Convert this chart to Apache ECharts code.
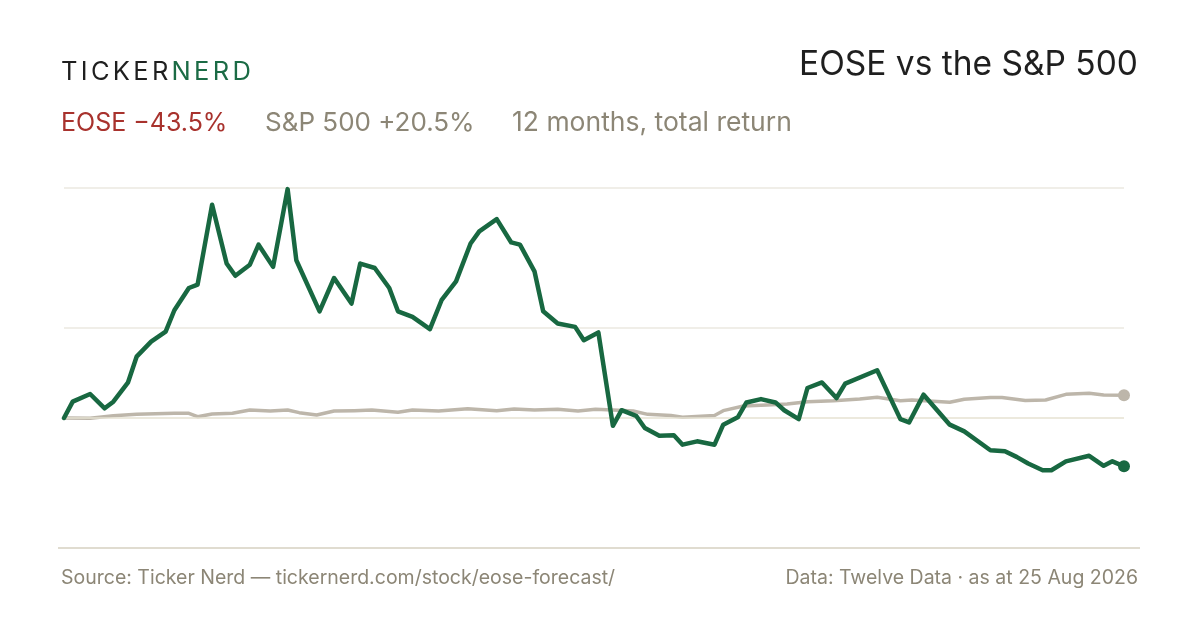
<!DOCTYPE html>
<html>
<head>
<meta charset="utf-8">
<title>EOSE vs the S&amp;P 500</title>
<script src="https://cdn.jsdelivr.net/npm/echarts@6/dist/echarts.min.js"></script>
<style>
  html, body { margin: 0; padding: 0; background: #ffffff; }
  #chart { width: 1200px; height: 630px; }
</style>
</head>
<body>
<div id="chart"></div>
<script>
// day offsets (0 = 25 Aug 2025, 365 = 25 Aug 2026) and total return in %
var eoseDays = [0, 3, 9, 14, 17, 22, 25, 30, 35, 38, 43, 46, 51, 56, 59, 64, 67, 72, 77, 80,
  88, 93, 99, 102, 107, 112, 115, 120, 126, 130, 135, 140, 143, 149, 154, 157, 162, 165, 170, 176,
  179, 184, 189, 192, 197, 200, 205, 210, 213, 218, 224, 227, 232, 235, 240, 245, 248, 253, 256, 261,
  266, 269, 280, 288, 291, 296, 305, 310, 319, 324, 328, 332, 337, 340, 345, 353, 358, 361, 365];
var eoseReturn = [0, 14.7, 21.6, 8.7, 14.7, 31.8, 55.2, 68.7, 77.7, 97, 117, 120, 192, 139, 128, 138, 156, 136, 206, 142,
  96, 126, 103, 139, 135, 117, 96, 91, 80, 106, 123, 157, 168, 179, 158, 156, 132, 96, 85, 82,
  70, 77, -7, 7, 2, -9, -16, -15.6, -24, -21, -24, -6, 0.6, 14, 17, 14, 7, -1, 27, 32,
  18, 31, 43, -1, -4, 21, -6, -12, -29, -30, -35, -41, -47, -47, -39, -34, -43, -39, -43.5];

var spxDays = [0, 9, 17, 25, 38, 43, 46, 51, 58, 64, 71, 77, 81, 87, 93, 100, 106, 115, 120, 129,
  139, 149, 155, 162, 170, 177, 183, 189, 196, 201, 209, 213, 224, 227, 234, 242, 249, 256, 265, 274,
  280, 284, 288, 292, 305, 310, 319, 323, 331, 338, 345, 353, 358, 365];
var spxReturn = [0, -0.3, 2.1, 3.3, 4.2, 4.2, 1.2, 3.6, 4.2, 7.2, 6.3, 7.2, 4.8, 2.7, 6.3, 6.6, 7.2, 5.1, 7.2, 6.3,
  8.4, 6.6, 8.1, 7.2, 7.8, 6.3, 7.8, 7.2, 6.3, 3.3, 2.2, 0.6, 2.2, 6.6, 10.8, 11.7, 12.6, 14.7, 15.6, 17.1,
  18.6, 17.1, 15.6, 16.2, 14.1, 16.9, 18.5, 18.5, 15.8, 16.2, 21.3, 22.2, 20.7, 20.5];

var gridLevels = [207, 81];
var zeroLevel = 0;

var FONT = 'Inter, "Noto Sans", sans-serif';

function pairs(xs, ys) {
  var out = [];
  for (var i = 0; i < xs.length; i++) out.push([xs[i], ys[i]]);
  return out;
}

function lastPoint(xs, ys, size) {
  var n = xs.length - 1;
  return [{ value: [xs[n], ys[n]], symbol: 'circle', symbolSize: size }];
}

// spaced-out logo: one rich token per letter so each gets its own padding
function spaced(word, style) {
  var s = '';
  for (var i = 0; i < word.length; i++) s += '{' + style + '|' + word.charAt(i) + '}';
  return s;
}

var chart = echarts.init(document.getElementById('chart'));

chart.setOption({
  backgroundColor: '#ffffff',
  animation: false,
  grid: { left: 64, right: 76, top: 188, bottom: 82 },
  xAxis: {
    type: 'value', min: 0, max: 365, show: false
  },
  yAxis: {
    type: 'value', min: -117, max: 207, show: false, splitLine: { show: false }
  },
  graphic: [
    {
      type: 'text', left: 61, top: 59,
      style: {
        text: spaced('TICKER', 'a') + spaced('NERD', 'b'),
        rich: {
          a: { fontFamily: FONT, fontSize: 25.5, fill: '#1f1f1f', padding: [0, 3.3, 0, 0] },
          b: { fontFamily: FONT, fontSize: 25.5, fill: '#1b6b45', padding: [0, 3.3, 0, 0] }
        }
      }
    },
    {
      type: 'text', right: 62, top: 48,
      style: { text: 'EOSE vs the S&P 500', fontFamily: FONT, fontSize: 33.5, fill: '#1f1f1f' }
    },
    {
      type: 'text', left: 61, top: 111,
      style: { text: 'EOSE \u221243.5%', fontFamily: FONT, fontSize: 25, fill: '#a8322d' }
    },
    {
      type: 'text', left: 265, top: 110,
      style: { text: 'S&P 500 +20.5%', fontFamily: FONT, fontSize: 26, fill: '#8c8676' }
    },
    {
      type: 'text', left: 512, top: 110,
      style: { text: '12 months, total return', fontFamily: FONT, fontSize: 26.5, fill: '#8c8676' }
    },
    {
      type: 'line',
      shape: { x1: 58, y1: 548, x2: 1140, y2: 548 },
      style: { stroke: '#e0dcd0', lineWidth: 2 }
    },
    {
      type: 'text', left: 61, top: 568,
      style: { text: 'Source: Ticker Nerd \u2014 tickernerd.com/stock/eose-forecast/', fontFamily: FONT, fontSize: 19.5, fill: '#8c8676' }
    },
    {
      type: 'text', right: 62, top: 568,
      style: { text: 'Data: Twelve Data \u00b7 as at 25 Aug 2026', fontFamily: FONT, fontSize: 19.5, fill: '#8c8676' }
    }
  ],
  series: [
    {
      // gridlines
      type: 'line', data: [], z: 1, silent: true,
      markLine: {
        silent: true, symbol: 'none', label: { show: false },
        lineStyle: { color: '#ebe8e1', width: 1.5, type: 'solid' },
        data: gridLevels.map(function (v) { return { yAxis: v }; })
          .concat([{ yAxis: zeroLevel, lineStyle: { color: '#e6e2d2', width: 1.5, type: 'solid' } }])
      }
    },
    {
      name: 'S&P 500', type: 'line', z: 3,
      data: pairs(spxDays, spxReturn),
      showSymbol: false, symbol: 'none',
      lineStyle: { color: '#bdb6aa', width: 3.5, join: 'round' }
    },
    {
      type: 'scatter', z: 4, silent: true,
      data: lastPoint(spxDays, spxReturn, 12),
      itemStyle: { color: '#bdb6aa', opacity: 1 }
    },
    {
      name: 'EOSE', type: 'line', z: 5,
      data: pairs(eoseDays, eoseReturn),
      showSymbol: false, symbol: 'none',
      lineStyle: { color: '#186841', width: 4.5, join: 'round', cap: 'round' }
    },
    {
      type: 'scatter', z: 6, silent: true,
      data: lastPoint(eoseDays, eoseReturn, 12),
      itemStyle: { color: '#186841', opacity: 1 }
    }
  ]
});
</script>
</body>
</html>
